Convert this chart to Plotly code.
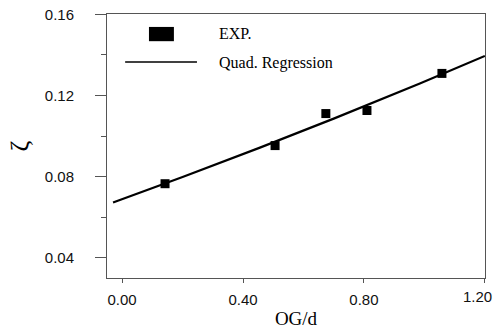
import plotly.graph_objects as go

exp_x = [0.142, 0.506, 0.674, 0.810, 1.058]
exp_y = [0.0765, 0.0953, 0.1111, 0.1126, 0.1309]

# Quadratic regression curve
reg_x = [-0.030, 0.20, 0.456, 0.70, 0.985, 1.20]
reg_y = [0.0672, 0.0798, 0.0943, 0.1086, 0.1259, 0.1395]

x_ticks = [0.0, 0.4, 0.8, 1.2]
x_tick_labels = ["0.00", "0.40", "0.80", "1.20"]
y_ticks = [0.04, 0.08, 0.12, 0.16]
y_tick_labels = ["0.04", "0.08", "0.12", "0.16"]

fig = go.Figure()
fig.add_trace(go.Scatter(x=reg_x, y=reg_y, mode="lines", line=dict(color="black", width=2.2),
                         showlegend=False))
fig.add_trace(go.Scatter(x=exp_x, y=exp_y, mode="markers",
                         marker=dict(symbol="square", size=9, color="black"), showlegend=False))

# manual legend
fig.add_shape(type="rect", xref="paper", yref="paper", x0=0.111, x1=0.177, y0=0.897, y1=0.951,
              fillcolor="black", line=dict(width=0))
fig.add_shape(type="line", xref="paper", yref="paper", x0=0.048, x1=0.238, y0=0.818, y1=0.818,
              line=dict(color="black", width=1.5))
fig.add_annotation(xref="paper", yref="paper", x=0.292, y=0.928, text="EXP.", showarrow=False,
                   xanchor="left", yanchor="middle", font=dict(family="Liberation Serif", size=16, color="black"))
fig.add_annotation(xref="paper", yref="paper", x=0.292, y=0.814, text="Quad. Regression", showarrow=False,
                   xanchor="left", yanchor="middle", font=dict(family="Liberation Serif", size=16, color="black"))

tick_font = dict(family="Liberation Sans", size=15, color="#111")

# last x tick label sits flush with the right edge (as in the reference)
shown_x_labels = x_tick_labels[:-1] + [""]
fig.add_annotation(xref="x", yref="paper", x=x_ticks[-1], y=0, text=x_tick_labels[-1], showarrow=False,
                   xanchor="right", yanchor="top", xshift=9, yshift=-8, font=tick_font)

fig.update_layout(
    width=496, height=335,
    margin=dict(l=107, r=11, t=14, b=57),
    paper_bgcolor="white", plot_bgcolor="white",
    xaxis=dict(range=[-0.05, 1.2005], tickvals=x_ticks, ticktext=shown_x_labels,
               showgrid=False, zeroline=False, showline=True, linecolor="#555", linewidth=1,
               mirror=True, ticks="outside", ticklen=4, tickcolor="#555",
               ticklabelstandoff=4, automargin=False,
               tickfont=tick_font,
               title=dict(text="OG/d", font=dict(family="Liberation Serif", size=19, color="black"), standoff=4)),
    yaxis=dict(range=[0.03, 0.1602], tickvals=y_ticks, ticktext=y_tick_labels,
               showgrid=False, zeroline=False, showline=True, linecolor="#555", linewidth=1,
               mirror=True, ticks="outside", ticklen=11, tickcolor="#555",
               ticklabelstandoff=18, ticklabeloverflow="allow", automargin=False,
               minor=dict(tickvals=[0.06, 0.10, 0.14], ticks="outside", ticklen=5, tickcolor="#555"),
               tickfont=tick_font,
               title=dict(text="ζ", font=dict(family="Liberation Serif", size=26, color="black"), standoff=8)),
)

fig.write_html("out.html")
